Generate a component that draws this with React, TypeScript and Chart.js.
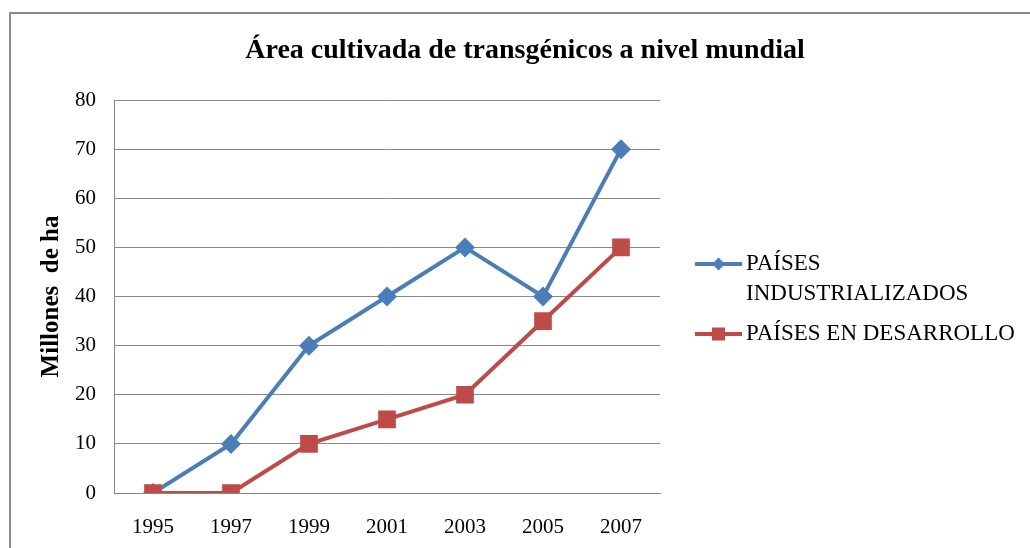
import React, { useEffect, useRef } from "react";
import { Chart, registerables } from "chart.js";

Chart.register(...registerables);

const chartTitle = "Área cultivada de transgénicos a nivel mundial";
const yAxisTitle = "Millones  de ha";
const years = ["1995", "1997", "1999", "2001", "2003", "2005", "2007"];
const seriesNames = ["PAÍSES INDUSTRIALIZADOS", "PAÍSES EN DESARROLLO"];
const industrializados = [0, 10, 30, 40, 50, 40, 70];
const enDesarrollo = [0, 0, 10, 15, 20, 35, 50];
const yMin = 0;
const yMax = 80;
const yStep = 10;

const BLUE = "#4A7EBB";
const RED = "#BE4B48";
const GRID = "#888888";
const SERIF = "'Liberation Serif', 'Times New Roman', serif";

const framePlugin = {
  id: "frame",
  beforeDraw(chart: any) {
    const ctx = chart.ctx;
    ctx.save();
    ctx.fillStyle = "#ffffff";
    ctx.fillRect(0, 0, chart.width, chart.height);
    ctx.strokeStyle = "#8c8c8c";
    ctx.lineWidth = 2;
    ctx.strokeRect(10, 13, chart.width + 50, chart.height + 50);
    ctx.restore();
  },
};

const titlePlugin = {
  id: "customTitle",
  afterDraw(chart: any) {
    const ctx = chart.ctx;
    ctx.save();
    ctx.font = `bold 28px ${SERIF}`;
    ctx.fillStyle = "#000";
    ctx.textAlign = "center";
    ctx.textBaseline = "middle";
    ctx.fillText(chartTitle, 525, 51);
    ctx.restore();
  },
};

function wrap(ctx: CanvasRenderingContext2D, text: string, maxW: number) {
  const words = text.split(" ");
  const lines: string[] = [];
  let cur = "";
  for (const w of words) {
    const t = cur ? cur + " " + w : w;
    if (ctx.measureText(t).width > maxW && cur) {
      lines.push(cur);
      cur = w;
    } else cur = t;
  }
  if (cur) lines.push(cur);
  return lines;
}

const legendPlugin = {
  id: "customLegend",
  afterDraw(chart: any) {
    const ctx = chart.ctx;
    ctx.save();
    ctx.font = `23px ${SERIF}`;
    ctx.textBaseline = "middle";
    ctx.textAlign = "left";
    const x0 = 695;
    const x1 = 742;
    const tx = 746;
    const lineH = 30;
    let y = 264;
    seriesNames.forEach((name) => {
      const ds = chart.data.datasets.find((d: any) => d.label === name);
      if (!ds) return;
      const lines = wrap(ctx, ds.label, 278);
      ctx.strokeStyle = ds.borderColor;
      ctx.lineWidth = 4;
      ctx.beginPath();
      ctx.moveTo(x0, y);
      ctx.lineTo(x1, y);
      ctx.stroke();
      ctx.fillStyle = ds.borderColor;
      const cx = (x0 + x1) / 2;
      if (ds.pointStyle === "rectRot") {
        ctx.beginPath();
        ctx.moveTo(cx, y - 6.5);
        ctx.lineTo(cx + 6.5, y);
        ctx.lineTo(cx, y + 6.5);
        ctx.lineTo(cx - 6.5, y);
        ctx.closePath();
        ctx.fill();
      } else {
        ctx.fillRect(cx - 6.5, y - 6.5, 13, 13);
      }
      ctx.fillStyle = "#000";
      lines.forEach((l, j) => ctx.fillText(l, tx, y + j * lineH));
      y += lines.length * lineH + 10;
    });
    ctx.restore();
  },
};

export default function App() {
  const ref = useRef<HTMLCanvasElement | null>(null);
  useEffect(() => {
    document.body.style.margin = "0";
    const chart = new Chart(ref.current as HTMLCanvasElement, {
      type: "line",
      data: {
        labels: years,
        datasets: [
          {
            label: seriesNames[1],
            data: enDesarrollo,
            borderColor: RED,
            backgroundColor: RED,
            borderWidth: 4,
            pointStyle: "rect",
            pointRadius: 12.5,
            pointHoverRadius: 12.5,
            pointBorderWidth: 0,
            tension: 0,
            order: 0,
          },
          {
            label: seriesNames[0],
            data: industrializados,
            borderColor: BLUE,
            backgroundColor: BLUE,
            borderWidth: 4,
            pointStyle: "rectRot",
            pointRadius: 10,
            pointHoverRadius: 10,
            pointBorderWidth: 0,
            tension: 0,
            order: 1,
          },
        ],
      },
      options: {
        responsive: false,
        animation: false,
        layout: { padding: { left: 10, top: 100, right: 370, bottom: 0 } },
        plugins: {
          legend: { display: false },
          title: { display: false },
          tooltip: { enabled: false },
        },
        scales: {
          x: {
            offset: true,
            grid: { display: false, drawTicks: false },
            border: { display: true, color: GRID, width: 1 },
            ticks: {
              color: "#000",
              padding: 22,
              font: { family: SERIF, size: 21 },
              maxRotation: 0,
            },
            afterFit(s: any) {
              s.height = 55;
            },
          },
          y: {
            min: yMin,
            max: yMax,
            grid: { color: GRID, lineWidth: 1, drawTicks: false },
            border: { display: true, color: GRID, width: 1 },
            ticks: {
              stepSize: yStep,
              color: "#000",
              padding: 18,
              font: { family: SERIF, size: 21 },
            },
            title: {
              display: true,
              text: yAxisTitle,
              color: "#000",
              font: { family: SERIF, size: 25, weight: "bold" },
              padding: { top: 27, bottom: 0 },
            },
            afterFit(s: any) {
              s.width = 104;
            },
          },
        },
      },
      plugins: [framePlugin, titlePlugin, legendPlugin],
    } as any);
    return () => chart.destroy();
  }, []);
  return (
    <div style={{ position: "absolute", left: 0, top: 0, width: 1030, height: 548, overflow: "hidden" }}>
      <canvas ref={ref} width={1030} height={548} />
    </div>
  );
}
